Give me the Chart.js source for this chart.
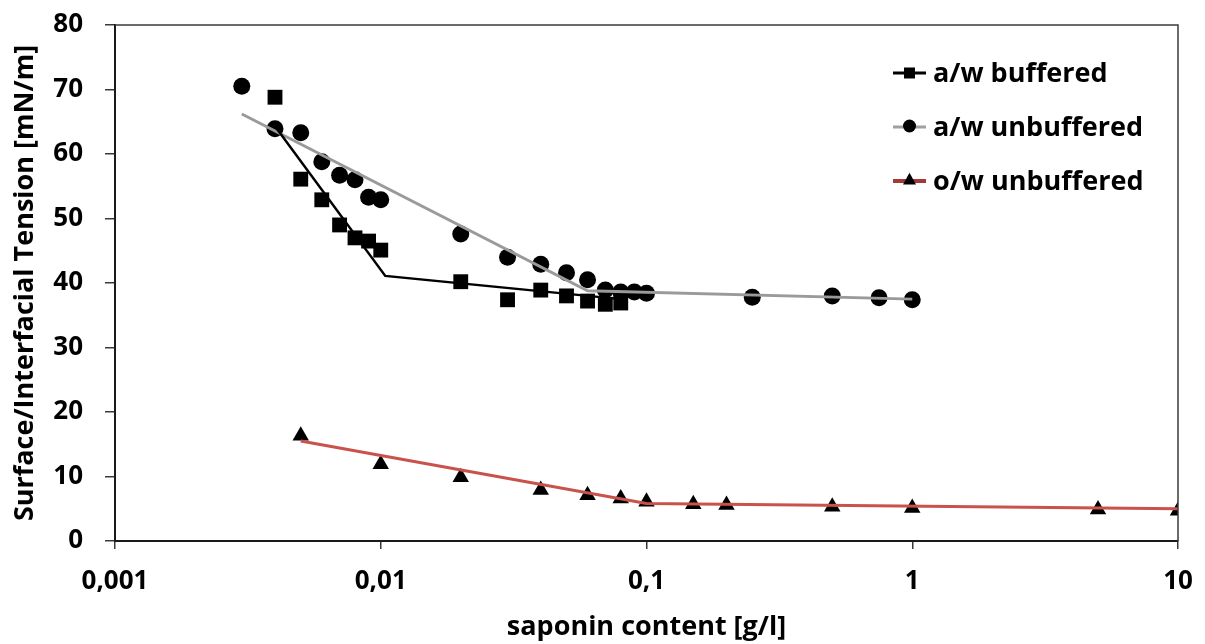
<!DOCTYPE html>
<html>
<head>
<meta charset="utf-8">
<script src="https://cdn.jsdelivr.net/npm/chart.js"></script>
<style>
    html, body { margin: 0; padding: 0; background: #fff; }
    #chartBox { width: 1205px; height: 644px; }
</style>
</head>
<body>
<div id="chartBox"><canvas id="TensionChart"></canvas></div>
<script>
// saponin content [g/l]
const concBuffered = [0.004, 0.005, 0.006, 0.007, 0.008, 0.009, 0.01, 0.02, 0.03, 0.04, 0.05, 0.06, 0.07, 0.08];
const tensionBuffered = [68.8, 56.1, 52.9, 49.0, 47.0, 46.5, 45.1, 40.2, 37.4, 38.9, 38.0, 37.2, 36.7, 36.9];
const fitBufferedX = [0.004, 0.0104, 0.08];
const fitBufferedY = [64.3, 41.1, 37.5];

const concUnbuffered = [0.003, 0.004, 0.005, 0.006, 0.007, 0.008, 0.009, 0.01, 0.02, 0.03, 0.04, 0.05, 0.06, 0.07, 0.08, 0.09, 0.1, 0.25, 0.5, 0.75, 1];
const tensionUnbuffered = [70.5, 63.9, 63.3, 58.8, 56.7, 56.0, 53.3, 52.9, 47.6, 44.0, 42.9, 41.6, 40.5, 38.9, 38.6, 38.6, 38.4, 37.8, 38.0, 37.7, 37.4];
const fitUnbufferedX = [0.003, 0.06, 1];
const fitUnbufferedY = [66.2, 38.8, 37.5];

const concOil = [0.005, 0.01, 0.02, 0.04, 0.06, 0.08, 0.1, 0.15, 0.2, 0.5, 1, 5, 10];
const tensionOil = [16.3, 11.9, 9.9, 7.9, 7.1, 6.6, 6.1, 5.7, 5.6, 5.3, 5.1, 4.9, 4.7];
const fitOilX = [0.005, 0.1, 10];
const fitOilY = [15.5, 5.8, 5.0];

const xTickValues = [0.001, 0.01, 0.1, 1, 10];
const xTickLabels = ["0,001", "0,01", "0,1", "1", "10"];
const seriesLabels = ["a/w buffered", "a/w unbuffered", "o/w unbuffered"];

const FONT = "'Open Sans', 'DejaVu Sans', sans-serif";
const lineColors = ["#000000", "#9a9a9a", "#c9524b"];
const legendLineColors = ["#000000", "#a0a0a0", "#a33a36"];
const markerStyles = ["rect", "circle", "triangle"];

function toPoints(xs, ys) {
    return xs.map((x, i) => ({ x: x, y: ys[i] }));
}

function markerSet(label, xs, ys, style, radius) {
    return {
        label: label,
        data: toPoints(xs, ys),
        pointStyle: style,
        pointRadius: radius,
        pointHoverRadius: radius,
        pointBackgroundColor: "#000",
        pointBorderColor: "#000",
        pointBorderWidth: 0,
        showLine: false,
        order: 1
    };
}

function fitSet(xs, ys, color, width) {
    return {
        label: "",
        data: toPoints(xs, ys),
        showLine: true,
        borderColor: color,
        borderWidth: width,
        pointRadius: 0,
        pointHoverRadius: 0,
        lineTension: 0,
        order: 0
    };
}

// top and right edge of the plot frame
const framePlugin = {
    id: "frame",
    afterDraw(chart) {
        const a = chart.chartArea;
        const ctx = chart.ctx;
        ctx.save();
        ctx.strokeStyle = "#3a3a3a";
        ctx.lineWidth = 1.5;
        ctx.beginPath();
        ctx.moveTo(a.left, a.top);
        ctx.lineTo(a.right, a.top);
        ctx.lineTo(a.right, a.bottom);
        ctx.stroke();
        ctx.restore();
    }
};

function drawMarker(ctx, style, x, y, r) {
    ctx.beginPath();
    if (style === "rect") {
        ctx.rect(x - r, y - r, 2 * r, 2 * r);
    } else if (style === "circle") {
        ctx.arc(x, y, r, 0, Math.PI * 2);
    } else {
        ctx.moveTo(x, y - r * 1.1);
        ctx.lineTo(x + r, y + r * 0.7);
        ctx.lineTo(x - r, y + r * 0.7);
        ctx.closePath();
    }
    ctx.fill();
}

// legend with line + marker samples
const legendPlugin = {
    id: "lineMarkerLegend",
    afterDraw(chart) {
        const ctx = chart.ctx;
        const left = 893, lineLen = 33, startY = 73, gap = 54;
        ctx.save();
        ctx.font = "bold 27px " + FONT;
        ctx.textBaseline = "middle";
        seriesLabels.forEach((label, i) => {
            const y = startY + i * gap;
            ctx.strokeStyle = legendLineColors[i];
            ctx.lineWidth = i === 2 ? 4 : 3;
            ctx.beginPath();
            ctx.moveTo(left, y);
            ctx.lineTo(left + lineLen, y);
            ctx.stroke();
            ctx.fillStyle = "#000";
            drawMarker(ctx, markerStyles[i], left + lineLen / 2, y - (i === 0 ? 0 : 1), i === 0 ? 5.5 : 6.5);
            ctx.fillStyle = "#000";
            ctx.fillText(label, left + lineLen + 7, y + 1);
        });
        ctx.restore();
    }
};

function setupChart() {
    const context = document.getElementById("TensionChart").getContext("2d");
    return new Chart(context, {
        type: "scatter",
        data: {
            datasets: [
                markerSet(seriesLabels[0], concBuffered, tensionBuffered, "rect", 10.5),
                markerSet(seriesLabels[1], concUnbuffered, tensionUnbuffered, "circle", 8.5),
                markerSet(seriesLabels[2], concOil, tensionOil, "triangle", 9.5),
                fitSet(fitBufferedX, fitBufferedY, lineColors[0], 2.5),
                fitSet(fitUnbufferedX, fitUnbufferedY, lineColors[1], 3),
                fitSet(fitOilX, fitOilY, lineColors[2], 3)
            ]
        },
        options: {
            responsive: true,
            maintainAspectRatio: false,
            animation: false,
            layout: { padding: { top: 25, right: 27, left: 0, bottom: 0 } },
            plugins: {
                legend: { display: false },
                tooltip: { enabled: false }
            },
            scales: {
                x: {
                    type: "logarithmic",
                    min: 0.001,
                    max: 10,
                    afterBuildTicks: scale => {
                        scale.ticks = xTickValues.map(v => ({ value: v }));
                    },
                    afterFit: scale => {
                        scale.height = 103;
                        scale.paddingLeft = 0;
                        scale.paddingRight = 0;
                    },
                    grid: { drawOnChartArea: false, drawTicks: true, tickLength: 8, color: "#3a3a3a", lineWidth: 1.5 },
                    border: { display: true, color: "#1a1a1a", width: 2 },
                    ticks: {
                        autoSkip: false,
                        maxRotation: 0,
                        padding: 17,
                        color: "#000",
                        font: { family: FONT, size: 26, weight: "bold" },
                        callback: (value, index) => xTickLabels[index]
                    },
                    title: {
                        display: true,
                        text: "saponin content [g/l]",
                        color: "#000",
                        font: { family: FONT, size: 27, weight: "bold" },
                        padding: { top: 0, bottom: 0 }
                    }
                },
                y: {
                    min: 0,
                    max: 80,
                    afterFit: scale => {
                        scale.width = 115;
                        scale.paddingTop = 0;
                        scale.paddingBottom = 0;
                    },
                    grid: { drawOnChartArea: false, drawTicks: true, tickLength: 10, color: "#3a3a3a", lineWidth: 1.5 },
                    border: { display: true, color: "#1a1a1a", width: 2 },
                    ticks: {
                        stepSize: 10,
                        padding: 22,
                        color: "#000",
                        font: { family: FONT, size: 26, weight: "bold" }
                    },
                    title: {
                        display: true,
                        text: "Surface/Interfacial Tension [mN/m]",
                        color: "#000",
                        font: { family: FONT, size: 27, weight: "bold" },
                        padding: { top: 9, bottom: 0 }
                    }
                }
            }
        },
        plugins: [framePlugin, legendPlugin]
    });
}

setupChart();
</script>
</body>
</html>
